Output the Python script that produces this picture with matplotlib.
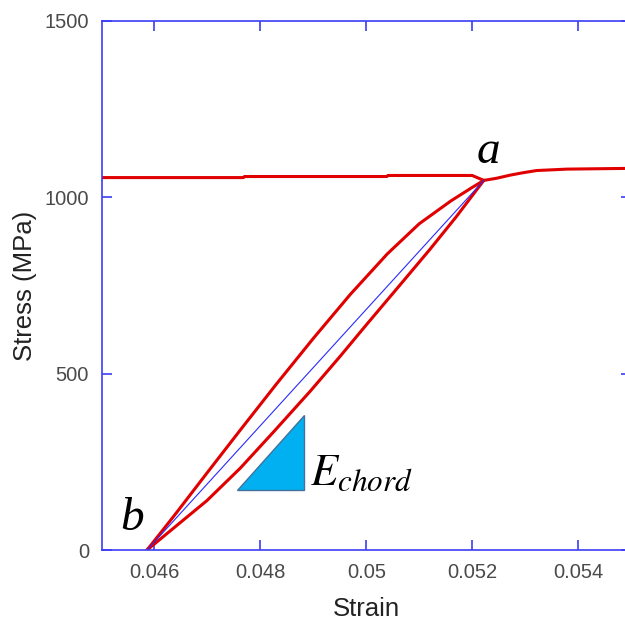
import matplotlib
matplotlib.use("Agg")
import matplotlib.pyplot as plt
from matplotlib.patches import Polygon

plt.rcParams["font.family"] = ["Liberation Sans", "DejaVu Sans"]
plt.rcParams["mathtext.fontset"] = "stix"

# Loading plateau before unloading (strain, stress MPa)
plateau_strain = [0.0450, 0.04768, 0.04770, 0.05039, 0.05041, 0.05200, 0.05222]
plateau_stress = [1056, 1056, 1059, 1059, 1062, 1062, 1048]

# Unloading branch from point a down to point b
unload_strain = [0.05222, 0.05200, 0.05160, 0.05100, 0.05040, 0.04970, 0.04900,
                 0.04830, 0.04762, 0.04699, 0.04636, 0.04586]
unload_stress = [1048, 1028, 990, 925, 840, 725, 600, 470, 340, 218, 95, 0]

# Reloading branch from point b back up to point a
reload_strain = [0.04586, 0.04636, 0.04699, 0.04762, 0.04825, 0.04894, 0.04950,
                 0.05001, 0.05064, 0.05120, 0.05170, 0.05222]
reload_stress = [0, 62, 140, 232, 335, 450, 548, 640, 752, 852, 945, 1048]

# Continued loading after point a
post_strain = [0.05222, 0.05246, 0.05272, 0.05297, 0.05322, 0.05379, 0.05490, 0.05500]
post_stress = [1048, 1054, 1063, 1070, 1076, 1080, 1082, 1082]

# Chord between b and a
chord_strain = [0.04586, 0.05222]
chord_stress = [0, 1048]

# Slope triangle marking the chord modulus
tri_strain = [0.04756, 0.04882, 0.04882]
tri_stress = [170, 170, 383]

xticks = [0.046, 0.048, 0.05, 0.052, 0.054]
xticklabels = ["0.046", "0.048", "0.05", "0.052", "0.054"]
yticks = [0, 500, 1000, 1500]
yticklabels = ["0", "500", "1000", "1500"]

fig = plt.figure(figsize=(6.25, 6.32), dpi=100)
ax = fig.add_axes([0.1624, 0.1297, 0.8472, 0.8371])

red = "#e00000"
for xs, ys in [(plateau_strain, plateau_stress), (unload_strain, unload_stress),
               (reload_strain, reload_stress), (post_strain, post_stress)]:
    ax.plot(xs, ys, color=red, lw=2.2, solid_joinstyle="round",
            solid_capstyle="round")
ax.plot(chord_strain, chord_stress, color="#2a2aff", lw=0.8)

ax.add_patch(Polygon(list(zip(tri_strain, tri_stress)), closed=True,
                     facecolor="#00b0f0", edgecolor="#41719c", lw=1.0, zorder=3))

ax.set_xlim(0.045, 0.055)
ax.set_ylim(0, 1500)
ax.set_xticks(xticks)
ax.set_xticklabels(xticklabels)
ax.set_yticks(yticks)
ax.set_yticklabels(yticklabels)

spine_color = "#3c3cf5"
for s in ax.spines.values():
    s.set_color(spine_color)
    s.set_linewidth(1.2)
ax.tick_params(direction="in", length=7.5, width=1.2, color=spine_color,
               top=True, right=True, labelsize=14.5, labelcolor="#4a4a4a", pad=9)

ax.set_xlabel("Strain", fontsize=18.5, color="#222222", labelpad=11)
ax.set_ylabel("Stress (MPa)", fontsize=18.5, color="#222222", labelpad=5.5)

serif = ["Liberation Serif", "DejaVu Serif"]
ax.text(0.05230, 1130, "a", fontsize=34, style="italic", family=serif,
        ha="center", va="center")
ax.text(0.04557, 88, "b", fontsize=34, style="italic", family=serif,
        ha="center", va="center")
ax.text(0.04894, 185, r"$E_{chord}$", fontsize=32, ha="left", va="baseline")

fig.savefig("out.png", dpi=100)
